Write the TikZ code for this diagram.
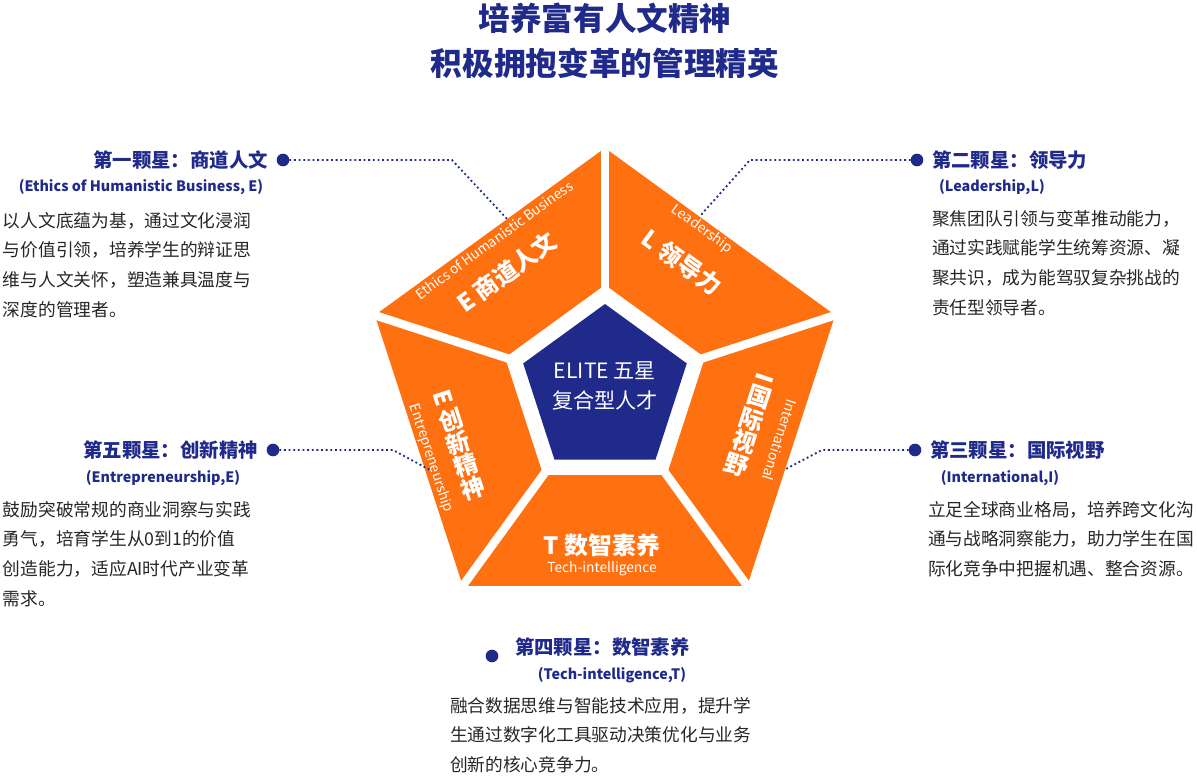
\documentclass[tikz,border=0pt]{standalone}
\usepackage{fontspec}
\setmainfont{Noto Sans CJK SC}
\usetikzlibrary{calc, positioning}
\definecolor{eliteblue}{HTML}{1F2A8A}
\definecolor{eliteorange}{HTML}{FF7010}
\tikzset{leader/.style={dotted, line width=1.3pt, eliteblue}}

\begin{document}
\begin{tikzpicture}[x=0.025cm, y=-0.025cm]
	% Default action for each node
	\tikzstyle{every node}=[inner sep=0pt, outer sep=0pt];
	\tikzstyle{dot}=[circle, fill=eliteblue, minimum size=9pt];
	\tikzstyle{head}=[text=eliteblue, font=\fontsize{13.8}{16}\selectfont\bfseries];
	\tikzstyle{sub}=[text=eliteblue, font=\fontsize{10.2}{12}\selectfont\bfseries];
	\tikzstyle{body}=[align=left, anchor=north west, text=black!85, font=\fontsize{12.6}{21.2}\selectfont];
	\tikzstyle{seg}=[text=white, font=\fontsize{17}{19}\selectfont\bfseries, align=center];
	\tikzstyle{segen}=[text=white, font=\fontsize{9.8}{11}\selectfont];
	\useasboundingbox (0,0) rectangle (1197,777);

	% Title
	\node[text=eliteblue, font=\fontsize{22.5}{26}\selectfont\bfseries] (title1) at (605,18) {培养富有人文精神};
	\node[text=eliteblue, font=\fontsize{22.5}{26}\selectfont\bfseries] (title2) at (605,63) {积极拥抱变革的管理精英};

	% Pentagon
	\coordinate (c) at (605,390);
	\fill[eliteorange] ($(c)+(-90:242)$) -- ($(c)+(-18:242)$) -- ($(c)+(54:242)$) -- ($(c)+(126:242)$) -- ($(c)+(198:242)$) -- cycle;
	\foreach \a in {-90,-18,54,126,198}
		\draw[white, line width=6pt] (c) -- ($(c)+(\a:250)$);
	\fill[white] ($(c)+(-90:105)$) -- ($(c)+(-18:105)$) -- ($(c)+(54:105)$) -- ($(c)+(126:105)$) -- ($(c)+(198:105)$) -- cycle;
	\fill[eliteblue] ($(c)+(-90:86)$) -- ($(c)+(-18:86)$) -- ($(c)+(54:86)$) -- ($(c)+(126:86)$) -- ($(c)+(198:86)$) -- cycle;
	\node[text=white, font=\fontsize{15}{21}\selectfont, align=center] (core) at (605,386) {ELITE 五星\\复合型人才};

	% Segment labels
	\node[seg, rotate=36] (segE) at (507,272) {E 商道人文};
	\node[segen, rotate=36] (segEen) at (494,240) {Ethics of Humanistic Business};
	\node[seg, rotate=-36] (segL) at (682,262) {L 领导力};
	\node[segen, rotate=-36] (segLen) at (702,229) {Leadership};
	\node[seg, rotate=-18] (segI) at (750,425) {\rotatebox{-90}{I}\\[2pt]国\\[-2pt]际\\[-2pt]视\\[-2pt]野};
	\node[segen, rotate=-108] (segIen) at (780,440) {International};
	\node[seg, rotate=18] (segE2) at (459,445) {\rotatebox{-90}{E}\\[2pt]创\\[-2pt]新\\[-2pt]精\\[-2pt]神};
	\node[segen, rotate=-72] (segE2en) at (431,458) {Entrepreneurship};
	\node[seg] (segT) at (602,545) {T 数智素养};
	\node[segen] (segTen) at (602,569) {Tech-intelligence};

	% Star 1
	\node[dot] (d1) at (283,160) {};
	\node[head, anchor=east] (h1) at (268,160) {第一颗星：商道人文};
	\node[sub] (s1) at (141,187) {(Ethics of Humanistic Business, E)};
	\node[body] (b1) at (3,212) {以人文底蕴为基，通过文化浸润\\与价值引领，培养学生的辩证思\\维与人文关怀，塑造兼具温度与\\深度的管理者。};
	\coordinate (k1) at (452,160);
	\coordinate (e1) at (508,220);
	\draw[leader] (d1) -- (k1) -- (e1);

	% Star 2
	\node[dot] (d2) at (917,160) {};
	\node[head, anchor=west] (h2) at (932,160) {第二颗星：领导力};
	\node[sub] (s2) at (992,187) {(Leadership,L)};
	\node[body] (b2) at (932,210) {聚焦团队引领与变革推动能力，\\通过实践赋能学生统筹资源、凝\\聚共识，成为能驾驭复杂挑战的\\责任型领导者。};
	\coordinate (k2) at (750,160);
	\coordinate (e2) at (700,216);
	\draw[leader] (d2) -- (k2) -- (e2);

	% Star 3
	\node[dot] (d3) at (915,450) {};
	\node[head, anchor=west] (h3) at (930,450) {第三颗星：国际视野};
	\node[sub] (s3) at (1000,478) {(International,I)};
	\node[body] (b3) at (928,501) {立足全球商业格局，培养跨文化沟\\通与战略洞察能力，助力学生在国\\际化竞争中把握机遇、整合资源。};
	\coordinate (k3) at (822,450);
	\coordinate (e3) at (784,470);
	\draw[leader] (d3) -- (k3) -- (e3);

	% Star 4
	\node[dot] (d4) at (492,656) {};
	\node[head, anchor=west] (h4) at (515,647) {第四颗星：数智素养};
	\node[sub] (s4) at (612,675) {(Tech-intelligence,T)};
	\node[body] (b4) at (450,697) {融合数据思维与智能技术应用，提升学\\生通过数字化工具驱动决策优化与业务\\创新的核心竞争力。};

	% Star 5
	\node[dot] (d5) at (273,450) {};
	\node[head, anchor=east] (h5) at (258,450) {第五颗星：创新精神};
	\node[sub] (s5) at (163,478) {(Entrepreneurship,E)};
	\node[body] (b5) at (3,501) {鼓励突破常规的商业洞察与实践\\勇气，培育学生从0到1的价值\\创造能力，适应AI时代产业变革\\需求。};
	\coordinate (k5) at (393,450);
	\coordinate (e5) at (430,470);
	\draw[leader] (d5) -- (k5) -- (e5);
\end{tikzpicture}
\end{document}
